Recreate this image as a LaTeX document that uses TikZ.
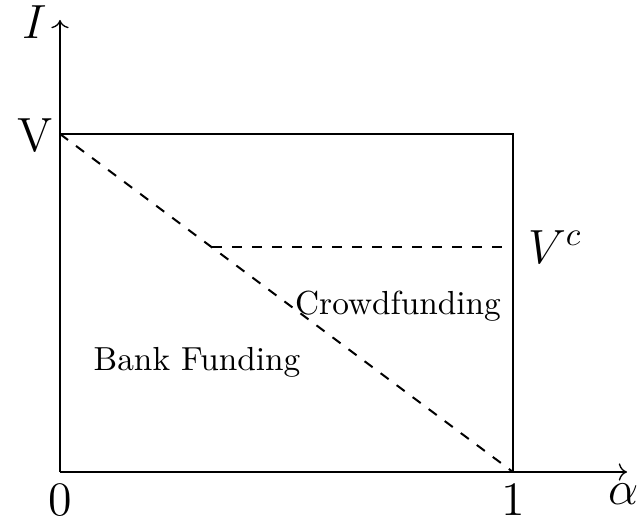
\documentclass[tikz,border=0pt]{standalone}
\usetikzlibrary{arrows.meta}
\begin{document}
\begin{tikzpicture}[x=0.3pt,y=-0.3pt,
  axis/.style={->,line width=0.4pt},
  dashline/.style={dashed,line width=0.6pt},
  big/.style={font=\Large},
  lbl/.style={anchor=base}]
\useasboundingbox (0,0) rectangle (641,525);
\coordinate (O) at (60,472);
\coordinate (Ytop) at (60,20);
\coordinate (Xend) at (627,472);
\coordinate (Vp) at (60,134);
\coordinate (TR) at (513,134);
\coordinate (BR) at (513,472);
\coordinate (Vc0) at (212,247);
\coordinate (Vc1) at (513,247);
\draw[axis] (O) -- (Ytop);
\draw[axis] (O) -- (Xend);
\draw (Vp) -- (TR) -- (BR);
\draw[dashline] (Vp) -- (BR);
\draw[dashline] (Vc0) -- (Vc1);
\node[big] (lI) at (35,22) {$I$};
\node[big] (lV) at (35,136) {V};
\node[big] (lVc) at (555,247) {$V^c$};
\node[big] (l0) at (60,500) {0};
\node[big] (l1) at (513,500) {1};
\node[big] (la) at (624,494) {$\alpha$};
\node[lbl] (cf) at (398,315) {Crowdfunding};
\node[lbl] (bf) at (197,370) {Bank Funding};
\end{tikzpicture}
\end{document}
